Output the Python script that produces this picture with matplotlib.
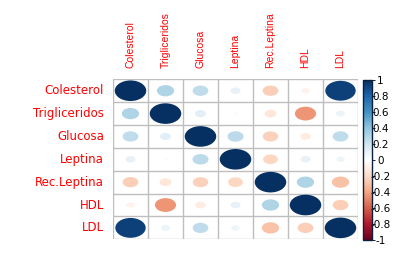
import matplotlib
matplotlib.use("Agg")
import matplotlib.pyplot as plt
import numpy as np
from matplotlib.patches import Ellipse
from matplotlib.colors import LinearSegmentedColormap, Normalize
from matplotlib.colorbar import ColorbarBase

labels = ['Colesterol', 'Trigliceridos', 'Glucosa', 'Leptina', 'Rec.Leptina', 'HDL', 'LDL']

# correlation matrix
corr = np.array([
    [1.00, 0.30, 0.25, 0.10, -0.25, -0.07, 0.93],
    [0.30, 1.00, 0.12, 0.02, -0.14, -0.45, 0.08],
    [0.25, 0.12, 1.00, 0.26, -0.24, -0.11, 0.25],
    [0.10, 0.02, 0.26, 1.00, -0.22, 0.10, 0.07],
    [-0.25, -0.14, -0.24, -0.22, 1.00, 0.30, -0.30],
    [-0.07, -0.45, -0.11, 0.10, 0.30, 1.00, -0.25],
    [0.93, 0.08, 0.25, 0.07, -0.30, -0.25, 1.00],
])

cbar_ticks = [1, 0.8, 0.6, 0.4, 0.2, 0, -0.2, -0.4, -0.6, -0.8, -1]

# RdBu palette as corrplot uses it
col2 = ["#67001F", "#B2182B", "#D6604D", "#F4A582", "#FDDBC7", "#FFFFFF",
        "#D1E5F0", "#92C5DE", "#4393C3", "#2166AC", "#053061"]
cmap = LinearSegmentedColormap.from_list("corr", col2, N=200)
norm = Normalize(-1, 1)

W, H = 396, 259
fig = plt.figure(figsize=(W / 100, H / 100), dpi=100)

x0, x1, y0, y1 = 113, 358, 79.3, 239.3
ax = fig.add_axes([x0 / W, 1 - y1 / H, (x1 - x0) / W, (y1 - y0) / H])
n = len(labels)
ax.set_xlim(0, n)
ax.set_ylim(n, 0)
for i in range(n):
    for j in range(n):
        r = corr[i, j]
        d = 0.9 * np.sqrt(abs(r))
        ax.add_patch(Ellipse((j + 0.5, i + 0.5), d, d, facecolor=cmap(norm(r)),
                             edgecolor='none'))
for k in range(n + 1):
    ax.axvline(k, color='#BEBEBE', lw=1, zorder=0)
    ax.axhline(k, color='#BEBEBE', lw=1, zorder=0)
ax.set_xticks([])
ax.set_yticks([])
for s in ax.spines.values():
    s.set_visible(False)

for i, lab in enumerate(labels):
    ax.text(-0.26, i + 0.5, lab, ha='right', va='center', color='red',
            fontsize=8.5, family='DejaVu Sans')
    ax.text(i + 0.5, -0.48, lab, ha='center', va='bottom', rotation=90,
            color='red', fontsize=7.5, family='Liberation Sans')

cax = fig.add_axes([363.3 / W, 1 - 240 / H, 8.6 / W, 160 / H])
cb = ColorbarBase(cax, cmap=cmap, norm=norm, orientation='vertical')
cb.outline.set_edgecolor('#0b1f3f')
cb.outline.set_linewidth(1)
cb.set_ticks(cbar_ticks)
cb.set_ticklabels([f"{t:g}" for t in cbar_ticks])
cax.tick_params(length=2, width=0.6, pad=4, labelsize=7.5, colors='black')
for t in cax.get_yticklabels():
    t.set_family('DejaVu Sans')
    t.set_horizontalalignment('center')

fig.savefig("out.png", dpi=100)
